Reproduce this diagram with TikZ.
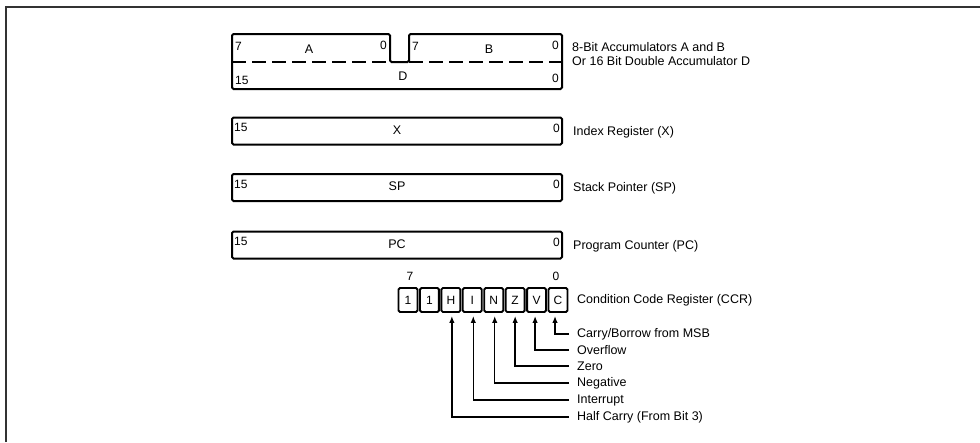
\documentclass[tikz,border=0pt]{standalone}
\usepackage{fontspec}
\setmainfont{Liberation Sans}
\usetikzlibrary{arrows.meta}
\begin{document}
\begin{tikzpicture}[x=1pt,y=-1pt,
  regbox/.style={draw,line width=2pt,rounded corners=1.5pt,minimum width=330pt,minimum height=27pt,inner sep=0pt},
  bitbox/.style={draw,line width=1.9pt,rounded corners=1.5pt,minimum width=19pt,minimum height=24pt,inner sep=0pt,font=\fontsize{12}{13}\selectfont},
  bitnum/.style={inner sep=0pt,font=\fontsize{12}{13}\selectfont},
  regtxt/.style={inner sep=0pt,font=\fontsize{12.5}{14}\selectfont},
  lbl/.style={anchor=west,inner sep=0pt,font=\fontsize{12.5}{14}\selectfont},
  flag/.style={line width=1.5pt,-{Latex[length=7pt,width=5.5pt]},shorten >=3pt,shorten <=8pt},
  frame/.style={line width=1.8pt,black!80}]
\useasboundingbox (0,0) rectangle (980,442);
% frame
\draw[frame] (6,442) -- (6,7) -- (980,7);
% accumulators A/B/D
\draw[line width=2pt,rounded corners=1.5pt]
  (232,34) -- (390,34) -- (390,62) -- (409,62) -- (409,34) -- (562,34) -- (562,89) -- (232,89) -- cycle;
\draw[line width=1.2pt,dash pattern=on 14pt off 6pt] (232,62) -- (390,62);
\draw[line width=1.2pt,dash pattern=on 14pt off 6pt] (409,62) -- (562,62);
\node[bitnum,anchor=west] (a7) at (235,46) {7};
\node[regtxt] (aA) at (309,49) {A};
\node[bitnum,anchor=east] (a0) at (387,45) {0};
\node[bitnum,anchor=west] (b7) at (412,46) {7};
\node[regtxt] (bB) at (489,49) {B};
\node[bitnum,anchor=east] (b0) at (559,45) {0};
\node[bitnum,anchor=west] (d15) at (235,80) {15};
\node[regtxt] (dD) at (403,76) {D};
\node[bitnum,anchor=east] (d0) at (559,78) {0};
\node[lbl] (accl1) at (572,47) {8-Bit Accumulators A and B};
\node[lbl] (accl2) at (572,61) {Or 16 Bit Double Accumulator D};
% X, SP, PC
\foreach \nm/\y/\txt/\lab in {X/131/X/Index Register (X), SP/187.5/SP/Stack Pointer (SP), PC/245/PC/Program Counter (PC)}{
  \node[regbox] (r\nm) at (397,\y) {};
  \node[bitnum,anchor=north west] (r\nm15) at ([xshift=3pt,yshift=-7pt]r\nm.north west) {15};
  \node[regtxt] (r\nm n) at ([yshift=1pt]r\nm.center) {\txt};
  \node[bitnum,anchor=north east] (r\nm0) at ([xshift=-3pt,yshift=-7pt]r\nm.north east) {0};
  \node[lbl] (r\nm l) at ([xshift=10pt,yshift=-1pt]r\nm.east) {\lab};
}
% CCR
\foreach \i/\t [count=\k from 0] in {7/1,6/1,5/H,4/I,3/N,2/Z,1/V,0/C}{
  \node[bitbox] (c\i) at ({408+21.43*\k},300) {\t};
}
\node[bitnum] (c7n) at (410,276) {7};
\node[bitnum] (c0n) at (556,276) {0};
\node[lbl] (ccrl) at (577,300) {Condition Code Register (CCR)};
\node[lbl] (lC) at (577,334) {Carry/Borrow from MSB};
\node[lbl] (lV) at (577,350) {Overflow};
\node[lbl] (lZ) at (577,366) {Zero};
\node[lbl] (lN) at (577,383) {Negative};
\node[lbl] (lI) at (577,400) {Interrupt};
\node[lbl] (lH) at (577,417) {Half Carry (From Bit 3)};
\draw[flag] (lC.west) -| ([xshift=-3pt]c0.south);
\draw[flag] (lV.west) -| ([xshift=-1.5pt]c1.south);
\draw[flag] (lZ.west) -| (c2.south);
\draw[flag] (lN.west) -| ([xshift=1pt]c3.south);
\draw[flag] (lI.west) -| ([xshift=1pt]c4.south);
\draw[flag] (lH.west) -| ([xshift=1pt]c5.south);
\end{tikzpicture}
\end{document}
